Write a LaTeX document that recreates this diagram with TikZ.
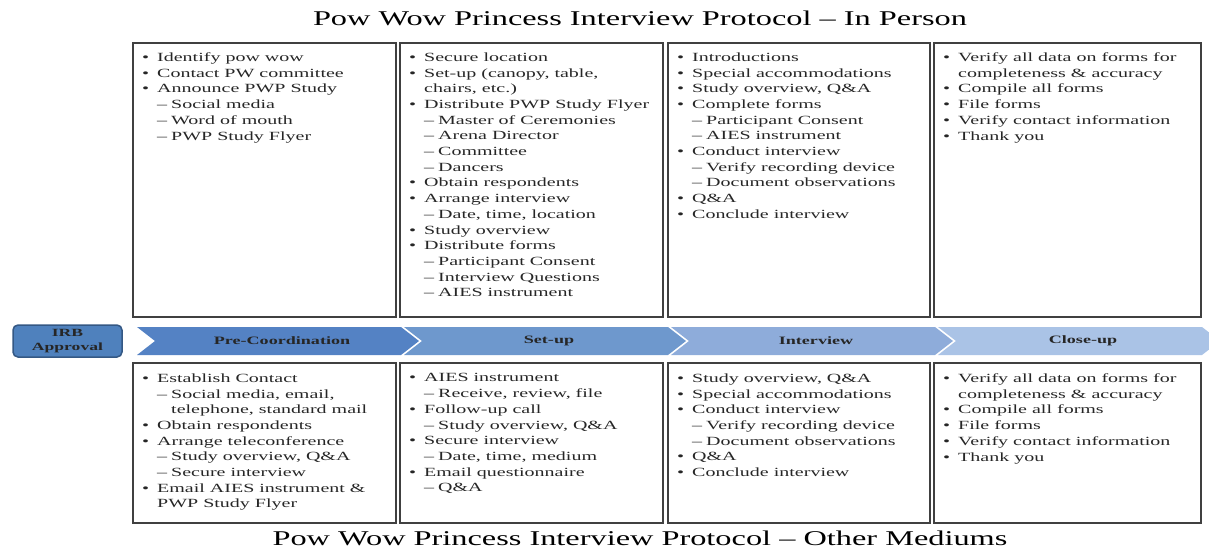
\documentclass[tikz,border=0pt]{standalone}
\usepackage{fontspec}
\setmainfont{Liberation Serif}
\newfontfamily\bodyfont[FakeStretch=1.6]{Liberation Serif}
\newfontfamily\headfont[FakeStretch=1.54]{Liberation Serif}
\newfontfamily\tagfont[FakeStretch=1.6]{Liberation Serif}

\definecolor{panelline}{HTML}{404040}
\definecolor{bodytext}{HTML}{262626}
\definecolor{stepA}{RGB}{84,130,196}
\definecolor{stepB}{RGB}{110,152,205}
\definecolor{stepC}{RGB}{142,172,218}
\definecolor{stepD}{RGB}{170,195,230}
\definecolor{irbfill}{RGB}{79,129,189}
\definecolor{irbline}{RGB}{52,88,132}

% list line helpers
\newcommand\pbul[1]{\makebox[15pt][l]{\textbullet}#1}
\newcommand\psub[1]{\hspace*{15pt}\makebox[14pt][l]{–}#1}
\newcommand\pcont[1]{\hspace*{15pt}#1}
\newcommand\psubcont[1]{\hspace*{29pt}#1}

\tikzset{
  panel/.style={draw=panelline, line width=1.3pt},
  bodylist/.style={font={\bodyfont\fontsize{12.5}{15.7}\selectfont}, text=bodytext,
    align=left, anchor=north west, inner sep=0pt},
  phaselabel/.style={font={\tagfont\bfseries\fontsize{11.3}{12}\selectfont}, text=black!85, inner sep=0pt},
  heading/.style={font={\headfont\fontsize{21}{24}\selectfont}, text=black, inner sep=0pt}
}

\begin{document}
\begin{tikzpicture}[x=1pt,y=-1pt]
\useasboundingbox (0,0) rectangle (1209,550);

% headings
\node[heading] (titletop) at (640,18) {Pow Wow Princess Interview Protocol – In Person};
\node[heading] (titlebot) at (640,538) {Pow Wow Princess Interview Protocol – Other Mediums};

% panels, in person (top) and other mediums (bottom)
\foreach \x/\w in {133/263, 400/263, 668/262, 934/267}{
  \draw[panel] (\x,43) rectangle ++(\w,274);
  \draw[panel] (\x,363) rectangle ++(\w,160);
}

% phase chevrons
\foreach \L/\c in {137/stepA, 404/stepB, 671/stepC, 938/stepD}{
  \fill[\c] (\L,327) -- ++(264,0) -- ++(18,14) -- ++(-18,14) -- ++(-264,0) -- ++(18,-14) -- cycle;
}
\node[phaselabel] (pre) at (282,341) {Pre-Coordination};
\node[phaselabel] (setup) at (549,341) {Set-up};
\node[phaselabel] (interview) at (816,341) {Interview};
\node[phaselabel] (closeup) at (1083,341) {Close-up};

% IRB approval
\draw[fill=irbfill, draw=irbline, line width=1.5pt, rounded corners=5pt] (13,325) rectangle (122,357);
\node[phaselabel, align=center, font={\tagfont\bfseries\fontsize{11}{14.5}\selectfont}] (irb) at (67.5,341) {IRB\\Approval};

% in person lists
\node[bodylist] (ip1) at (142,52.5) {%
\pbul{Identify pow wow}\\
\pbul{Contact PW committee}\\
\pbul{Announce PWP Study}\\
\psub{Social media}\\
\psub{Word of mouth}\\
\psub{PWP Study Flyer}};

\node[bodylist] (ip2) at (409,52.5) {%
\pbul{Secure location}\\
\pbul{Set-up (canopy, table,}\\
\pcont{chairs, etc.)}\\
\pbul{Distribute PWP Study Flyer}\\
\psub{Master of Ceremonies}\\
\psub{Arena Director}\\
\psub{Committee}\\
\psub{Dancers}\\
\pbul{Obtain respondents}\\
\pbul{Arrange interview}\\
\psub{Date, time, location}\\
\pbul{Study overview}\\
\pbul{Distribute forms}\\
\psub{Participant Consent}\\
\psub{Interview Questions}\\
\psub{AIES instrument}};

\node[bodylist] (ip3) at (677,52.5) {%
\pbul{Introductions}\\
\pbul{Special accommodations}\\
\pbul{Study overview, Q\&A}\\
\pbul{Complete forms}\\
\psub{Participant Consent}\\
\psub{AIES instrument}\\
\pbul{Conduct interview}\\
\psub{Verify recording device}\\
\psub{Document observations}\\
\pbul{Q\&A}\\
\pbul{Conclude interview}};

\node[bodylist] (ip4) at (943,52.5) {%
\pbul{Verify all data on forms for}\\
\pcont{completeness \& accuracy}\\
\pbul{Compile all forms}\\
\pbul{File forms}\\
\pbul{Verify contact information}\\
\pbul{Thank you}};

% other mediums lists
\node[bodylist] (om1) at (142,373.5) {%
\pbul{Establish Contact}\\
\psub{Social media, email,}\\
\psubcont{telephone, standard mail}\\
\pbul{Obtain respondents}\\
\pbul{Arrange teleconference}\\
\psub{Study overview, Q\&A}\\
\psub{Secure interview}\\
\pbul{Email AIES instrument \&}\\
\pcont{PWP Study Flyer}};

\node[bodylist] (om2) at (409,373.5) {%
\pbul{AIES instrument}\\
\psub{Receive, review, file}\\
\pbul{Follow-up call}\\
\psub{Study overview, Q\&A}\\
\pbul{Secure interview}\\
\psub{Date, time, medium}\\
\pbul{Email questionnaire}\\
\psub{Q\&A}};

\node[bodylist] (om3) at (677,373.5) {%
\pbul{Study overview, Q\&A}\\
\pbul{Special accommodations}\\
\pbul{Conduct interview}\\
\psub{Verify recording device}\\
\psub{Document observations}\\
\pbul{Q\&A}\\
\pbul{Conclude interview}};

\node[bodylist] (om4) at (943,373.5) {%
\pbul{Verify all data on forms for}\\
\pcont{completeness \& accuracy}\\
\pbul{Compile all forms}\\
\pbul{File forms}\\
\pbul{Verify contact information}\\
\pbul{Thank you}};
\end{tikzpicture}
\end{document}
